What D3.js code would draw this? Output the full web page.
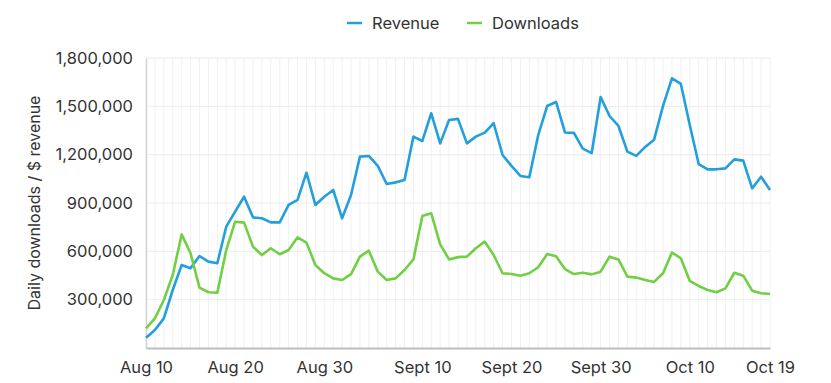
<!DOCTYPE html>
<html>
<head>
<meta charset="utf-8">
<script src="https://cdn.jsdelivr.net/npm/d3@7"></script>
<style>
  body { margin: 0; background: #fff; }
  svg { display: block; font-family: Inter, "Noto Sans", sans-serif; }
</style>
</head>
<body>
<svg id="chart"></svg>
<script>
// daily values, Aug 10 -> Oct 19
const startDate = new Date(2020, 7, 10);

const revenue = [
  64000, 112000, 184000, 360000, 515000, 495000, 571000, 536000, 526000, 753000,
  846000, 939000, 811000, 805000, 780000, 780000, 888000, 919000, 1088000, 888000,
  939000, 981000, 805000, 950000, 1188000, 1192000, 1130000, 1018000, 1028000, 1043000,
  1312000, 1285000, 1457000, 1270000, 1415000, 1422000, 1270000, 1312000, 1337000, 1395000,
  1198000, 1130000, 1068000, 1060000, 1322000, 1502000, 1527000, 1338000, 1335000, 1238000,
  1210000, 1558000, 1440000, 1378000, 1219000, 1192000, 1248000, 1293000, 1503000, 1674000,
  1639000, 1384000, 1142000, 1109000, 1109000, 1115000, 1171000, 1163000, 991000, 1063000,
  981000
];

const downloads = [
  122000, 184000, 298000, 453000, 705000, 588000, 375000, 346000, 343000, 608000,
  784000, 778000, 629000, 577000, 619000, 582000, 608000, 687000, 654000, 515000,
  464000, 432000, 422000, 458000, 567000, 604000, 474000, 422000, 432000, 484000,
  550000, 819000, 836000, 643000, 550000, 564000, 567000, 619000, 660000, 577000,
  464000, 459000, 449000, 464000, 501000, 583000, 569000, 490000, 459000, 467000,
  457000, 474000, 567000, 550000, 443000, 437000, 422000, 410000, 464000, 592000,
  557000, 416000, 385000, 360000, 346000, 370000, 467000, 449000, 356000, 340000,
  335000
];

const yTicks = [300000, 600000, 900000, 1200000, 1500000, 1800000];
const xTickDays = [0, 10, 20, 31, 41, 51, 61, 70];
const xTickLabels = ["Aug 10", "Aug 20", "Aug 30", "Sept 10", "Sept 20", "Sept 30", "Oct 10", "Oct 19"];

const seriesNames = ["Revenue", "Downloads"];
const seriesColors = ["#229fdc", "#72cf45"];

const width = 831, height = 383;
const margin = { top: 58, right: 61, bottom: 35, left: 146 };

const dayToDate = i => d3.timeDay.offset(startDate, i);
const dates = d3.range(revenue.length).map(dayToDate);

const svg = d3.select("#chart")
    .attr("width", width)
    .attr("height", height);

const x = d3.scaleTime()
    .domain([dates[0], dates[dates.length - 1]])
    .range([margin.left, width - margin.right]);

const y = d3.scaleLinear()
    .domain([0, 1800000])
    .range([height - margin.bottom, margin.top]);

// daily vertical grid
svg.append("g")
    .selectAll("line")
    .data(dates)
    .join("line")
    .attr("x1", d => x(d)).attr("x2", d => x(d))
    .attr("y1", margin.top).attr("y2", height - margin.bottom)
    .attr("stroke", "#f1f1f1")
    .attr("stroke-width", 1);

// horizontal grid
svg.append("g")
    .selectAll("line")
    .data(yTicks)
    .join("line")
    .attr("x1", margin.left).attr("x2", width - margin.right)
    .attr("y1", d => y(d)).attr("y2", d => y(d))
    .attr("stroke", "#ececec")
    .attr("stroke-width", 1);

// y axis
const yAxis = svg.append("g")
    .attr("transform", `translate(${margin.left},0)`)
    .call(d3.axisLeft(y).tickValues(yTicks).tickSize(0).tickPadding(13).tickFormat(d3.format(",")));
yAxis.select(".domain").attr("stroke", "#d4d4d4").attr("stroke-width", 1.5);
yAxis.selectAll("text")
    .attr("font-size", 16.5)
    .attr("fill", "#333")
    .attr("font-family", "Inter, 'Noto Sans', sans-serif");

// x axis
const xAxis = svg.append("g")
    .attr("transform", `translate(0,${height - margin.bottom})`)
    .call(d3.axisBottom(x)
        .tickValues(xTickDays.map(dayToDate))
        .tickSize(0)
        .tickPadding(13)
        .tickFormat((d, i) => xTickLabels[i]));
xAxis.select(".domain").attr("stroke", "#bdbdbd").attr("stroke-width", 2);
xAxis.selectAll("text")
    .attr("font-size", 16.5)
    .attr("fill", "#333")
    .attr("font-family", "Inter, 'Noto Sans', sans-serif");

// y label
svg.append("text")
    .attr("transform", "translate(40,203) rotate(-90)")
    .attr("text-anchor", "middle")
    .attr("font-size", 16)
    .attr("fill", "#333")
    .text("Daily downloads / $ revenue");

// lines
const line = d3.line()
    .x((d, i) => x(dates[i]))
    .y(d => y(d));

[revenue, downloads].forEach((values, k) => {
    svg.append("path")
        .datum(values)
        .attr("fill", "none")
        .attr("stroke", seriesColors[k])
        .attr("stroke-width", 2.6)
        .attr("stroke-linejoin", "round")
        .attr("d", line);
});

// legend
const legendPos = [347, 467];
const lg = svg.append("g");
seriesNames.forEach((name, k) => {
    lg.append("line")
        .attr("x1", legendPos[k]).attr("x2", legendPos[k] + 15)
        .attr("y1", 23).attr("y2", 23)
        .attr("stroke", seriesColors[k])
        .attr("stroke-width", 2.5);
    lg.append("text")
        .attr("x", legendPos[k] + 25)
        .attr("y", 23)
        .attr("dy", "0.35em")
        .attr("font-size", 16.5)
        .attr("fill", "#333")
        .text(name);
});
</script>
</body>
</html>
